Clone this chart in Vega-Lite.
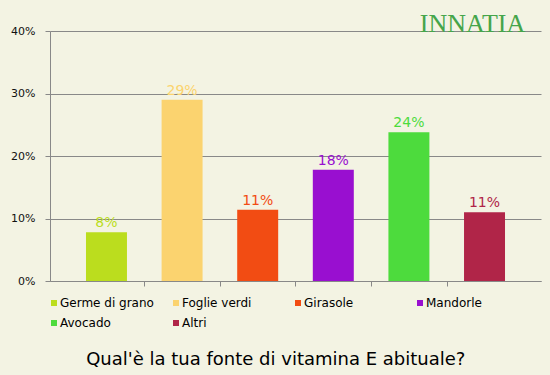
{
  "$schema": "https://vega.github.io/schema/vega-lite/v6.json",
  "width": 491,
  "height": 250,
  "autosize": {"type": "none"},
  "padding": {"left": 50, "top": 31, "right": 9, "bottom": 94},
  "background": "#f3f3e3",
  "config": {"view": {"stroke": null}, "font": "DejaVu Sans"},
  "title": {
    "text": "Qual'è la tua fonte di vitamina E abituale?",
    "orient": "bottom",
    "frame": "bounds",
    "anchor": "middle",
    "fontSize": 18,
    "fontWeight": "normal",
    "font": "DejaVu Sans",
    "color": "#000000",
    "offset": 22
  },
  "layer": [
    {
      "data": {
        "values": [
          {"fonte": "Germe di grano", "valore": 0.078},
          {"fonte": "Foglie verdi", "valore": 0.29},
          {"fonte": "Girasole", "valore": 0.114},
          {"fonte": "Mandorle", "valore": 0.178},
          {"fonte": "Avocado", "valore": 0.238},
          {"fonte": "Altri", "valore": 0.11}
        ]
      },
      "encoding": {
        "x": {
          "field": "fonte",
          "type": "nominal",
          "sort": null,
          "scale": {"paddingInner": 0.458, "paddingOuter": 0.476},
          "axis": {
            "title": null,
            "labels": false,
            "values": ["Germe di grano", "Foglie verdi", "Girasole", "Mandorle", "Avocado"],
            "tickOffset": 37.7,
            "tickSize": 5,
            "tickColor": "#888888",
            "domainColor": "#888888",
            "grid": false
          }
        },
        "y": {
          "field": "valore",
          "type": "quantitative",
          "scale": {"domain": [0, 0.4]},
          "axis": {
            "title": null,
            "values": [0, 0.1, 0.2, 0.3, 0.4],
            "format": ".0%",
            "grid": true,
            "gridColor": "#888888",
            "tickColor": "#888888",
            "domainColor": "#888888",
            "tickSize": 5,
            "labelPadding": 10,
            "labelFontSize": 11,
            "labelColor": "#111111",
            "labelFont": "DejaVu Sans"
          }
        },
        "color": {
          "field": "fonte",
          "type": "nominal",
          "sort": null,
          "scale": {
            "domain": ["Germe di grano", "Mandorle", "Foglie verdi", "Avocado", "Girasole", "Altri"],
            "range": ["#bbdd1e", "#990fd0", "#fbd36f", "#4ddb3d", "#f24c13", "#b02548"]
          },
          "legend": {
            "orient": "none",
            "legendX": -2,
            "legendY": 266,
            "title": null,
            "columns": 4,
            "gridAlign": "all",
            "symbolType": "square",
            "symbolSize": 36,
            "symbolStrokeWidth": 0,
            "labelFontSize": 12,
            "labelFont": "DejaVu Sans",
            "labelColor": "#000000",
            "columnPadding": 16,
            "rowPadding": 8,
            "labelOffset": 0
          }
        }
      },
      "layer": [
        {"mark": {"type": "bar"}},
        {
          "mark": {"type": "text", "baseline": "bottom", "dy": -2, "fontSize": 14, "font": "DejaVu Sans"},
          "encoding": {"text": {"field": "valore", "type": "quantitative", "format": ".0%"}}
        }
      ]
    },
    {
      "data": {"values": [{"logo": "INNATIA", "fonte": "Altri", "valore": 0.4}]},
      "mark": {"type": "text", "baseline": "alphabetic", "align": "center", "dx": -12, "dy": 1, "fontSize": 26, "font": "Liberation Serif", "color": "#45a54a"},
      "encoding": {
        "x": {"field": "fonte", "type": "nominal", "sort": null},
        "y": {"field": "valore", "type": "quantitative"},
        "text": {"field": "logo", "type": "nominal"}
      }
    }
  ]
}
